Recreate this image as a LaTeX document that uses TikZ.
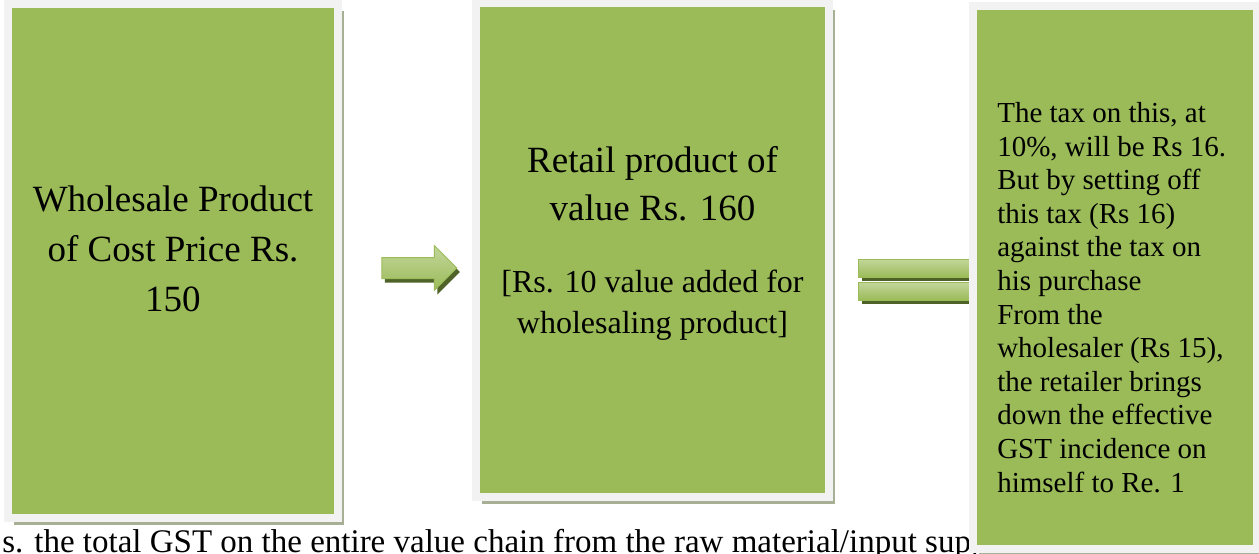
\documentclass[tikz,border=0pt]{standalone}
\usepackage{fontspec}
\setmainfont{Liberation Serif}
\usetikzlibrary{positioning, shapes.arrows, shadows}
\definecolor{olivegreen}{HTML}{9BBB59}
\definecolor{framegray}{HTML}{F2F2F2}
\definecolor{shadowgray}{HTML}{A7B095}
\definecolor{darkolive}{HTML}{4F6228}
\definecolor{barlight}{HTML}{C3D69B}

\begin{document}
\begin{tikzpicture}[
  x=0.75pt, y=-0.75pt,
  box/.style={fill=olivegreen, draw=framegray, line width=6pt, inner sep=0pt,
              drop shadow={shadow xshift=4.5pt, shadow yshift=-5pt,
                           fill=shadowgray, opacity=1}},
  boxtext/.style={inner sep=0pt, text=black},
  fwdarrow/.style={single arrow, single arrow head extend=9pt,
                   inner xsep=0pt, inner ysep=7.5pt,
                   minimum height=56.25pt, minimum width=33pt,
                   top color=barlight, bottom color=olivegreen,
                   draw=olivegreen, line width=0.75pt,
                   drop shadow={shadow xshift=2.25pt, shadow yshift=-3pt,
                                fill=darkolive, opacity=1}},
  eqbar/.style={rectangle, inner sep=0pt, minimum width=87.75pt,
                minimum height=13.5pt, top color=barlight, bottom color=olivegreen,
                draw=olivegreen, line width=0.75pt,
                drop shadow={shadow xshift=3pt, shadow yshift=-3pt,
                             fill=darkolive, opacity=1}}
]
  \useasboundingbox (0,0) rectangle (1259,553);
  \clip (0,0) rectangle (1259,553);

  % Running text behind the boxes
  \node[boxtext, anchor=base west, font=\fontsize{24.75}{30}\selectfont]
    (chaintext) at (2,552)
    {s. the total GST on the entire value chain from the raw material/input supp};

  % Boxes
  \node[box, minimum width=247.5pt, minimum height=385.5pt] (wholesale) at (173,261) {};
  \node[box, minimum width=264.75pt, minimum height=370.5pt] (retail) at (652.5,250) {};

  % Arrow and equals sign
  \node[fwdarrow] (fwd) at (414,268) {};
  \node[eqbar] (eqtop) at (916.5,268) {};
  \node[eqbar] (eqbot) at (916.5,291) {};

  \node[box, minimum width=213pt, minimum height=407.25pt] (setoff) at (1115,277.5) {};

  % Labels (base = last line)
  \node[boxtext, anchor=base, align=center, font=\fontsize{27.75}{37.5}\selectfont]
    (wholesaletext) at (173,311) {Wholesale Product\\of Cost Price Rs.\\150};
  \node[boxtext, anchor=base, align=center, font=\fontsize{27.75}{36}\selectfont]
    (retailtext) at (652.5,220) {Retail product of\\value Rs. 160};
  \node[boxtext, anchor=base, align=center, font=\fontsize{24}{30.75}\selectfont]
    (retailnote) at (652.5,333) {[Rs. 10 value added for\\wholesaling product]};
  \node[boxtext, anchor=base west, align=left, font=\fontsize{21.75}{25.2}\selectfont]
    (setofftext) at (997,492)
    {The tax on this, at\\10\%, will be Rs 16.\\But by setting off\\this tax (Rs 16)\\
     against the tax on\\his purchase\\From the\\wholesaler (Rs 15),\\
     the retailer brings\\down the effective\\GST incidence on\\himself to Re. 1};
\end{tikzpicture}
\end{document}
